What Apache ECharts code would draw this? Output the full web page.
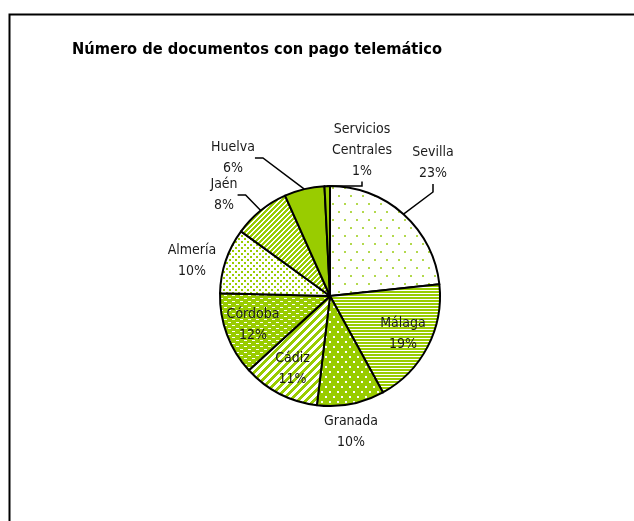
<!DOCTYPE html>
<html>
<head>
<meta charset="utf-8">
<script src="https://cdn.jsdelivr.net/npm/echarts@6/dist/echarts.min.js"></script>
<style>
  html, body { margin: 0; padding: 0; background: #fff; }
  #chart { width: 634px; height: 521px; }
</style>
</head>
<body>
<div id="chart"></div>
<script>
const titleText = 'Número de documentos con pago telemático';
const provinces = ['Sevilla', 'Málaga', 'Granada', 'Cádiz', 'Córdoba', 'Almería', 'Jaén', 'Huelva', 'Servicios\nCentrales'];
const shares = [23.3, 18.7, 9.9, 11.3, 12.2, 9.6, 8.3, 5.9, 0.8];

const green = '#99cc00';
const font = "'Liberation Sans Narrow', 'DejaVu Sans Condensed', 'Liberation Sans', sans-serif";

// small pattern tiles, roughly like the excel fills
function tile(w, h, bg, fg, test) {
    const c = document.createElement('canvas');
    c.width = w; c.height = h;
    const ctx = c.getContext('2d');
    ctx.fillStyle = bg;
    ctx.fillRect(0, 0, w, h);
    ctx.fillStyle = fg;
    for (let y = 0; y < h; y++) {
        for (let x = 0; x < w; x++) {
            if (test(x, y)) ctx.fillRect(x, y, 1, 1);
        }
    }
    return { image: c, repeat: 'repeat' };
}

const dots = (pts, s) => (x, y) => pts.some(p => x >= p[0] && x < p[0] + s && y >= p[1] && y < p[1] + s);

const fills = {
    'Sevilla': tile(12, 16, '#fff', '#b3d94d', dots([[2, 3], [8, 11]], 2)),
    'Málaga': tile(1, 3, '#fff', green, (x, y) => y < 2),
    'Granada': tile(8, 10, green, '#fff', dots([[1, 1], [5, 6]], 1.5)),
    'Cádiz': tile(8, 8, '#fff', green, (x, y) => (x + y) % 8 < 4),
    'Córdoba': tile(8, 6, green, '#fff', (x, y) => (y === 1 && x < 3) || (y === 4 && x >= 4 && x < 7)),
    'Almería': tile(6, 6, '#fff', green, dots([[1, 1], [4, 4]], 1.5)),
    'Jaén': tile(5, 5, '#fff', green, (x, y) => (x + y) % 5 < 3),
    'Huelva': green,
    'Servicios\nCentrales': green
};

const insideLabels = ['Málaga', 'Cádiz', 'Córdoba'];
const noLine = ['Almería', 'Granada'];
// where the outside labels sit (centre of the text block), like the excel layout
const labelAt = {
    'Sevilla': [433, 163],
    'Servicios\nCentrales': [362, 150],
    'Huelva': [233, 158],
    'Jaén': [224, 195],
    'Almería': [192, 261],
    'Granada': [351, 432]
};

const center = [330, 296];
const R = 110;

const labelStyle = {
    fontFamily: font,
    fontSize: 14,
    lineHeight: 21,
    color: '#1a1a1a',
    formatter: p => p.name + '\n' + Math.round(p.percent) + '%'
};

const pieData = provinces.map((name, i) => ({
    name: name,
    value: shares[i],
    itemStyle: { color: fills[name] },
    label: { show: !insideLabels.includes(name) },
    labelLine: { show: !insideLabels.includes(name) && !noLine.includes(name) }
}));

// transparent twin, only used to carry the labels written inside the slices
const labelData = provinces.map((name, i) => ({
    name: name,
    value: shares[i],
    label: { show: insideLabels.includes(name) }
}));

const chart = echarts.init(document.getElementById('chart'), null, { renderer: 'canvas' });
chart.setOption({
    animation: false,
    title: {
        text: titleText,
        left: 72,
        top: 42,
        padding: 0,
        textStyle: { fontFamily: font, fontSize: 16.3, fontWeight: 'bold', color: '#000' }
    },
    graphic: [{
        type: 'rect',
        left: 7, top: 12,
        shape: { width: 700, height: 600 },
        style: { fill: 'none', stroke: '#000', lineWidth: 2 },
        silent: true
    }],
    series: [{
        type: 'pie',
        center: center,
        radius: [0, R],
        startAngle: 90,
        clockwise: true,
        avoidLabelOverlap: false,
        itemStyle: { borderColor: '#000', borderWidth: 2 },
        label: labelStyle,
        labelLine: {
            length: 10,
            length2: 8,
            lineStyle: { color: '#000', width: 1.5 }
        },
        labelLayout: p => {
            const pos = labelAt[provinces[p.dataIndex]];
            if (!pos) return {};
            return { x: pos[0], y: pos[1], align: 'center', verticalAlign: 'middle' };
        },
        emphasis: { disabled: true },
        data: pieData
    }, {
        type: 'pie',
        center: center,
        radius: [0, R * 1.44],
        startAngle: 90,
        clockwise: true,
        silent: true,
        avoidLabelOverlap: false,
        itemStyle: { color: 'rgba(0,0,0,0)', borderWidth: 0 },
        label: Object.assign({ position: 'inside', align: 'center' }, labelStyle),
        labelLine: { show: false },
        emphasis: { disabled: true },
        data: labelData
    }]
});
</script>
</body>
</html>
